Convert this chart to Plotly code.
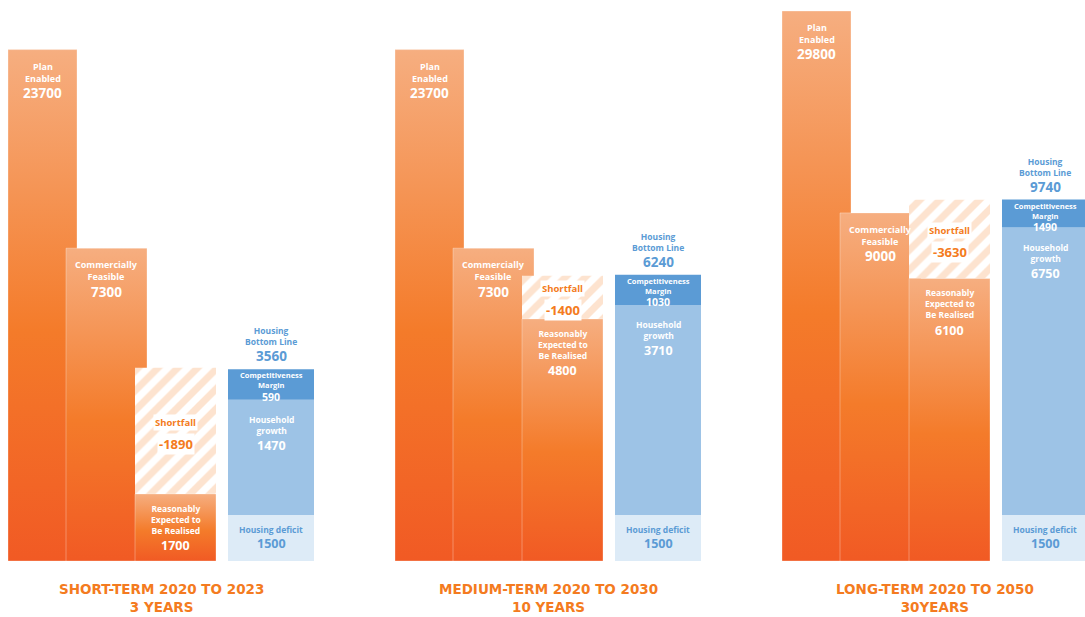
import math
import plotly.graph_objects as go

# ---------------- data ----------------
group_titles = ["SHORT-TERM 2020 TO 2023", "MEDIUM-TERM 2020 TO 2030", "LONG-TERM 2020 TO 2050"]
group_spans = ["3 YEARS", "10 YEARS", "30YEARS"]
plan_enabled = [23700, 23700, 29800]
commercially_feasible = [7300, 7300, 9000]
reasonably_expected = [1700, 4800, 6100]
shortfall = [-1890, -1400, -3630]
housing_deficit = [1500, 1500, 1500]
household_growth = [1470, 3710, 6750]
competitiveness_margin = [590, 1030, 1490]
housing_bottom_line = [3560, 6240, 9740]

# ---------------- layout / style ----------------
W, H = 1085, 617
PLOT_TOP, PLOT_BOTTOM = 11, 561          # pixel rows of the plotting band
Y_FLOOR = 1142                           # lower end of the (log) value axis
GROUP_X0, GROUP_STEP = 8, 387
SLOT = {"plan": (0, 69), "commercial": (58, 139), "reasonably": (127, 208), "housing": (220, 306)}
FONT = "Open Sans"
TITLE_FONT = "DejaVu Sans"

ORANGE_SCALE = [[0, "#F15A24"], [0.45, "#F47B2A"], [1, "#F6AE80"]]
STRIPE = "#FCC8A0"
BLUE_DARK, BLUE_MID, BLUE_LIGHT = "#5B9BD5", "#9DC3E6", "#DDEBF7"
TEXT_BLUE = "#5B9BD5"
TEXT_ORANGE = "#F47B20"

fig = go.Figure()


def xspan(g, slot):
    l, r = SLOT[slot]
    x0 = GROUP_X0 + g * GROUP_STEP
    return x0 + l, x0 + r


def rect(x0, x1, y0, y1, **kw):
    fig.add_trace(go.Scatter(
        x=[x0, x1, x1, x0, x0], y=[y0, y0, y1, y1, y0],
        mode="lines", fill="toself", hoverinfo="skip", showlegend=False, **kw))


annotations = []


def ann(x, yval, text, size, color, yanchor, yshift, bg=None, pad=0):
    a = dict(x=x, y=math.log10(yval), xref="x", yref="y", text=text, showarrow=False,
             font=dict(size=size, color=color, family=FONT), xanchor="center",
             yanchor=yanchor, yshift=yshift, borderpad=pad)
    if bg:
        a["bgcolor"] = bg
    annotations.append(a)


def top_label(x, top, name, value, color="white", nsize=9, vsize=13.5, off=9, gap=1):
    n = name.count("<br>") + 1
    ann(x, top, f"<b>{name}</b>", nsize, color, "top", -off)
    ann(x, top, f"<b>{value}</b>", vsize, color, "top", -(off + n * 1.3 * nsize + gap))


orange_line = dict(width=1, color="rgba(255,255,255,0.3)")

for g in range(len(group_titles)):
    # Plan enabled
    x0, x1 = xspan(g, "plan")
    rect(x0, x1, Y_FLOOR, plan_enabled[g], line=orange_line,
         fillgradient=dict(type="vertical", colorscale=ORANGE_SCALE))
    top_label((x0 + x1) / 2, plan_enabled[g], "Plan<br>Enabled", plan_enabled[g])

    # Commercially feasible
    x0, x1 = xspan(g, "commercial")
    rect(x0, x1, Y_FLOOR, commercially_feasible[g], line=orange_line,
         fillgradient=dict(type="vertical", colorscale=ORANGE_SCALE))
    top_label((x0 + x1) / 2, commercially_feasible[g], "Commercially<br>Feasible",
              commercially_feasible[g])

    # Reasonably expected + shortfall on top
    x0, x1 = xspan(g, "reasonably")
    cx = (x0 + x1) / 2
    re_top = reasonably_expected[g]
    sf_top = reasonably_expected[g] - shortfall[g]
    rect(x0, x1, re_top, sf_top, line=dict(width=0), fillcolor="white",
         fillpattern=dict(shape="/", fgcolor=STRIPE, bgcolor="white", size=14, solidity=0.5))
    rect(x0, x1, Y_FLOOR, re_top, line=orange_line,
         fillgradient=dict(type="vertical", colorscale=ORANGE_SCALE))
    top_label(cx, re_top, "Reasonably<br>Expected to<br>Be Realised", re_top,
              nsize=8.5, vsize=12.5, off=8)
    mid = 10 ** ((math.log10(re_top) + math.log10(sf_top)) / 2)
    ann(cx, mid, "<b>Shortfall</b>", 9.5, TEXT_ORANGE, "bottom", 0, bg="white", pad=1)
    ann(cx, mid, f"<b>{shortfall[g]}</b>", 13, TEXT_ORANGE, "top", -2, bg="white", pad=1)

    # Housing bottom line stack
    x0, x1 = xspan(g, "housing")
    cx = (x0 + x1) / 2
    d_top = housing_deficit[g]
    g_top = d_top + household_growth[g]
    m_top = g_top + competitiveness_margin[g]
    rect(x0, x1, Y_FLOOR, d_top, line=dict(width=0), fillcolor=BLUE_LIGHT)
    rect(x0, x1, d_top, g_top, line=dict(width=0), fillcolor=BLUE_MID)
    rect(x0, x1, g_top, m_top, line=dict(width=0), fillcolor=BLUE_DARK)

    ann(cx, Y_FLOOR, "<b>Housing deficit</b>", 8.5, TEXT_BLUE, "bottom", 25)
    ann(cx, Y_FLOOR, f"<b>{housing_deficit[g]}</b>", 12.5, TEXT_BLUE, "bottom", 8)
    top_label(cx, g_top, "Household<br>growth", household_growth[g], nsize=8.5, vsize=12.5,
              off=13)
    top_label(cx, m_top, "Competitiveness<br>Margin", competitiveness_margin[g], nsize=7.5,
              vsize=10.5, off=0, gap=0)
    ann(cx, m_top, f"<b>{housing_bottom_line[g]}</b>", 13.5, TEXT_BLUE, "bottom", 3)
    ann(cx, m_top, "<b>Housing<br>Bottom Line</b>", 8.5, TEXT_BLUE, "bottom", 21)

    # group title (two lines, one text block)
    gx = GROUP_X0 + g * GROUP_STEP + SLOT["housing"][1] / 2
    annotations.append(dict(x=gx, xref="x", y=1 - 598 / H, yref="paper",
                            text=f"<b>{group_titles[g]}<br>{group_spans[g]}</b>",
                            showarrow=False, xanchor="center", yanchor="middle", borderpad=0,
                            font=dict(size=13.5, color=TEXT_ORANGE, family=TITLE_FONT)))

fig.update_layout(
    width=W, height=H, margin=dict(l=0, r=0, t=0, b=0),
    paper_bgcolor="white", plot_bgcolor="white", showlegend=False,
    xaxis=dict(range=[0, W], visible=False, fixedrange=True),
    yaxis=dict(type="log", range=[math.log10(Y_FLOOR), math.log10(max(plan_enabled))],
               domain=[(H - PLOT_BOTTOM) / H, (H - PLOT_TOP) / H], visible=False, fixedrange=True),
    annotations=annotations,
)

fig.write_html("out.html")
